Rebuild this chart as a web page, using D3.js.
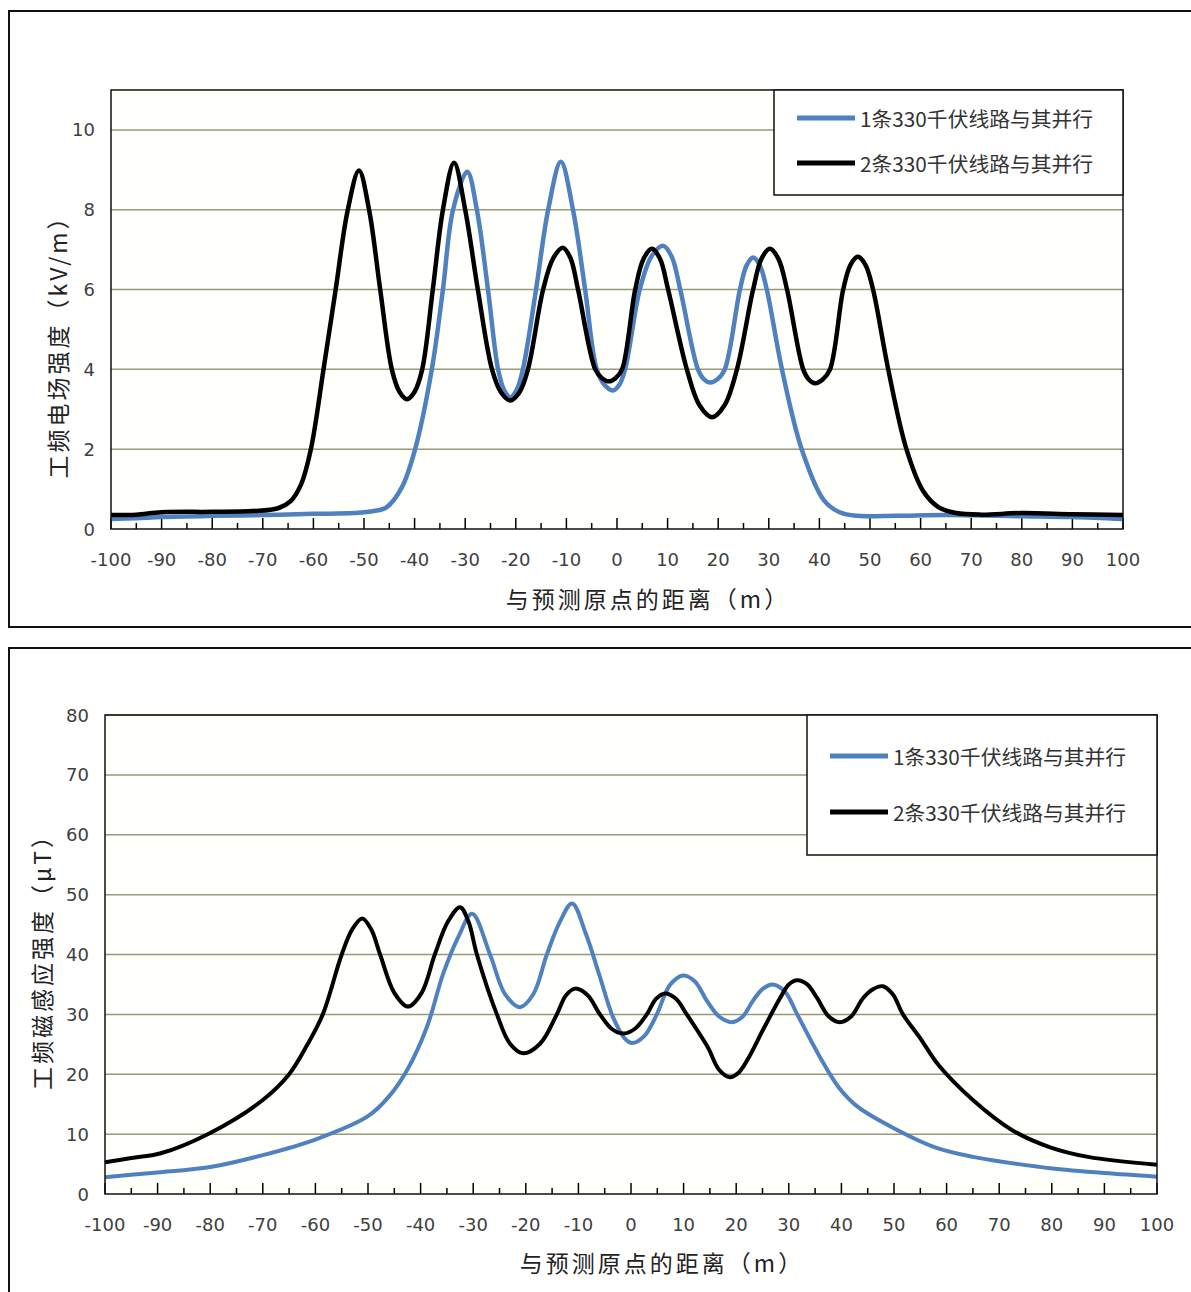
<!DOCTYPE html>
<html>
<head>
<meta charset="utf-8">
<script src="https://cdn.jsdelivr.net/npm/d3@7"></script>
<style>
  body { margin: 0; background: #fff; }
  svg { display: block; }
</style>
</head>
<body>
<svg width="1191" height="1292"></svg>
<script>
// series names
const seriesNames = ["1条330千伏线路与其并行", "2条330千伏线路与其并行"];
const xTicks = [-100, -90, -80, -70, -60, -50, -40, -30, -20, -10, 0, 10, 20, 30, 40, 50, 60, 70, 80, 90, 100];

// 工频电场强度 (kV/m) — one line
const eDist1 = [-100, -95, -90, -80, -70, -60, -52, -48, -45.5, -42.5, -39.9, -36.6, -34.4, -32.4, -29.6, -27.7, -25.5, -23.5, -22.3, -21.1, -19.85, -18.6, -16.0, -13.6, -11.1, -8.7, -6.3, -4.0, -2.4, -0.8, 0.4, 1.6, 4.5, 6.8, 9.1, 10.8, 12.5, 16.0, 17.2, 18.4, 19.85, 21.3, 24.3, 25.6, 26.9, 28.25, 29.6, 32.6, 36.5, 40.9, 44, 47.6, 55, 65, 80, 90, 100];
const eVal1  = [0.25, 0.27, 0.3, 0.33, 0.35, 0.38, 0.4, 0.45, 0.55, 1.05, 2.0, 4, 6, 8, 8.95, 8, 6, 4, 3.48, 3.3, 3.48, 4, 6, 8, 9.2, 8, 6, 4, 3.6, 3.47, 3.6, 4, 6, 6.83, 7.1, 6.83, 6, 4, 3.75, 3.67, 3.75, 4, 6, 6.6, 6.8, 6.6, 6, 4, 2.0, 0.72, 0.42, 0.33, 0.33, 0.35, 0.32, 0.3, 0.25];
// two lines
const eDist2 = [-100, -95, -90, -80, -72, -67, -64.5, -62.5, -60.5, -58.0, -55.6, -53.2, -51.0, -49.0, -46.8, -44.5, -43.0, -41.5, -40.0, -38.5, -36.4, -34.4, -32.2, -30.0, -27.5, -24.7, -22.9, -21.1, -19.3, -17.6, -14.6, -12.6, -10.7, -9.2, -7.7, -4.3, -2.95, -1.6, -0.3, 1.0, 3.6, 5.25, 6.9, 8.5, 10.1, 13.8, 16.3, 18.8, 21.25, 23.7, 26.9, 28.55, 30.2, 31.9, 33.6, 36.8, 37.95, 39.1, 40.6, 42.1, 44.7, 46.15, 47.6, 49.1, 50.6, 53.6, 57.2, 60.5, 63.5, 67, 72, 80, 90, 100];
const eVal2  = [0.35, 0.36, 0.42, 0.43, 0.45, 0.52, 0.7, 1.1, 2.0, 4, 6, 8, 8.98, 8, 6, 4, 3.44, 3.25, 3.44, 4, 6, 8, 9.18, 8, 6, 4, 3.42, 3.22, 3.42, 4, 6, 6.79, 7.05, 6.79, 6, 4, 3.78, 3.7, 3.78, 4, 6, 6.77, 7.02, 6.77, 6, 4, 3.1, 2.8, 3.1, 4, 6, 6.77, 7.02, 6.77, 6, 4, 3.74, 3.65, 3.74, 4, 6, 6.62, 6.82, 6.62, 6, 4, 2.0, 0.95, 0.55, 0.4, 0.36, 0.4, 0.37, 0.35];
const eTicks = [0, 2, 4, 6, 8, 10];

// 工频磁感应强度 (μT) — one line
const bDist1 = [-100, -95, -90, -80, -70, -60, -50, -46, -42.5, -38.8, -35.7, -32.8, -30.2, -26.8, -23.95, -21.1, -18.55, -16, -13.5, -11.2, -8.6, -6.0, -3.4, -1.2, 0.2, 2.55, 4.9, 7.4, 9.9, 12.15, 14.4, 16.8, 19.2, 21.2, 23.2, 25.1, 27, 29.3, 31.6, 35.9, 39.5, 43.2, 50.6, 57.8, 65, 72, 79.7, 90, 100];
const bVal1  = [2.8, 3.2, 3.6, 4.5, 6.5, 9.1, 13, 16.3, 20.8, 27.9, 36.8, 43, 46.8, 40, 33.4, 31.2, 33.4, 40, 45.5, 48.5, 43.5, 36.5, 29.5, 26, 25.2, 26.4, 30, 34.9, 36.5, 35.5, 32.3, 29.6, 28.7, 29.6, 32.3, 34.3, 35, 33.75, 30, 22.9, 17.8, 14.5, 10.7, 7.8, 6.2, 5.2, 4.3, 3.5, 2.9];
// two lines
const bDist2 = [-100, -95, -89.4, -80, -70, -65, -61.5, -58.6, -55, -53, -51.1, -49.4, -47.7, -45.0, -42.4, -39.8, -37.3, -34.8, -32.5, -30.9, -29.3, -25.5, -23, -20.5, -17.3, -14.1, -12.35, -10.6, -8.25, -5.9, -3.7, -1.5, 0.75, 3.0, 4.75, 6.5, 8.55, 10.6, 14.6, 16.7, 18.8, 20.5, 22.2, 25.2, 28.4, 30, 31.6, 33.5, 35.4, 37.55, 39.7, 41.9, 44.1, 46, 47.9, 49.8, 51.7, 55, 58.5, 65, 72.4, 79.7, 86.9, 100];
const bVal2  = [5.3, 6.0, 6.8, 10.2, 15.7, 20, 25, 30, 40, 44.2, 46, 44.2, 40, 33.6, 31.3, 33.6, 40, 45.5, 47.9, 45.5, 40, 30, 25.1, 23.5, 25.1, 30, 33.2, 34.3, 33.2, 30, 27.6, 26.8, 27.6, 30, 32.6, 33.5, 32.6, 30, 24.5, 20.8, 19.5, 20.3, 22.5, 27.6, 32.8, 35.0, 35.7, 35.0, 32.7, 29.7, 28.7, 29.7, 32.7, 34.2, 34.7, 33.3, 30, 26, 21.5, 15.7, 10.7, 7.8, 6.2, 4.9];
const bTicks = [0, 10, 20, 30, 40, 50, 60, 70, 80];

const svg = d3.select("svg");
const cjk = "'Noto Sans CJK SC', sans-serif";
const num = "'DejaVu Sans', sans-serif";
const colors = ["#4f81c0", "#000000"];

function drawChart(c) {
    const g = svg.append("g");

    // outer frame
    g.append("rect")
        .attr("x", c.frame[0]).attr("y", c.frame[1])
        .attr("width", c.frame[2]).attr("height", c.frame[3])
        .attr("fill", "#fff").attr("stroke", "#111").attr("stroke-width", 2);

    const x = d3.scaleLinear().domain([-100, 100]).range([c.left, c.right]);
    const y = d3.scaleLinear().domain(c.yDomain).range([c.bottom, c.top]);

    g.append("rect")
        .attr("x", c.left).attr("y", c.top)
        .attr("width", c.right - c.left).attr("height", c.bottom - c.top)
        .attr("fill", "#fffffb");

    // gridlines
    g.selectAll(".grid").data(c.yTicks.filter(d => d > 0)).enter().append("line")
        .attr("x1", c.left).attr("x2", c.right)
        .attr("y1", d => y(d)).attr("y2", d => y(d))
        .attr("stroke", "#9a987a").attr("stroke-width", 1.5);

    // y tick labels
    g.selectAll(".ylab").data(c.yTicks).enter().append("text")
        .attr("x", c.left - 16).attr("y", d => y(d))
        .attr("text-anchor", "end").attr("dominant-baseline", "central")
        .attr("font-family", num).attr("font-size", 18).attr("fill", "#404040")
        .text(d => d);

    // x axis ticks (inside, pointing up)
    const minor = d3.range(-95, 100, 10);
    g.selectAll(".xt").data(xTicks).enter().append("line")
        .attr("x1", d => x(d)).attr("x2", d => x(d))
        .attr("y1", c.bottom).attr("y2", c.bottom - 11)
        .attr("stroke", "#000").attr("stroke-width", 1.5);
    g.selectAll(".xm").data(minor).enter().append("line")
        .attr("x1", d => x(d)).attr("x2", d => x(d))
        .attr("y1", c.bottom).attr("y2", c.bottom - 6)
        .attr("stroke", "#000").attr("stroke-width", 1.5);
    g.selectAll(".xlab").data(xTicks).enter().append("text")
        .attr("x", d => x(d)).attr("y", c.bottom + 30)
        .attr("text-anchor", "middle").attr("dominant-baseline", "central")
        .attr("font-family", num).attr("font-size", 18).attr("fill", "#404040")
        .text(d => d);

    // lines
    const line = d3.line()
        .x(d => x(d[0])).y(d => y(d[1]))
        .curve(d3.curveCatmullRom.alpha(0.5));
    c.series.forEach(function(s, i) {
        const pts = s.dist.map((d, j) => [d, s.val[j]]);
        g.append("path").datum(pts)
            .attr("d", line)
            .attr("fill", "none")
            .attr("stroke", colors[i])
            .attr("stroke-width", c.lw)
            .attr("stroke-linejoin", "round");
    });

    // plot border
    g.append("rect")
        .attr("x", c.left).attr("y", c.top)
        .attr("width", c.right - c.left).attr("height", c.bottom - c.top)
        .attr("fill", "none").attr("stroke", "#111").attr("stroke-width", 1.5);

    // legend
    const L = c.legend;
    g.append("rect")
        .attr("x", L.x).attr("y", c.top)
        .attr("width", c.right - L.x).attr("height", L.bottom - c.top)
        .attr("fill", "#fff").attr("stroke", "#111").attr("stroke-width", 1.5);
    seriesNames.forEach(function(name, i) {
        const ly = L.rows[i];
        g.append("line")
            .attr("x1", L.sx).attr("x2", L.sx + 58)
            .attr("y1", ly).attr("y2", ly)
            .attr("stroke", colors[i]).attr("stroke-width", 5);
        g.append("text")
            .attr("x", L.sx + 63).attr("y", ly)
            .attr("dominant-baseline", "central")
            .attr("font-family", cjk).attr("font-size", 20).attr("fill", "#333")
            .attr("textLength", 233).attr("lengthAdjust", "spacingAndGlyphs")
            .text(name);
    });

    // axis titles
    g.append("text")
        .attr("x", c.xTitle[0]).attr("y", c.xTitle[1])
        .attr("text-anchor", "middle").attr("dominant-baseline", "central")
        .attr("font-family", cjk).attr("font-size", 23).attr("fill", "#222")
        .attr("letter-spacing", 3)
        .text("与预测原点的距离（m）");
    g.append("text")
        .attr("transform", "translate(" + c.yTitle[0] + "," + c.yTitle[1] + ") rotate(-90)")
        .attr("text-anchor", "middle").attr("dominant-baseline", "central")
        .attr("font-family", cjk).attr("font-size", 23).attr("fill", "#222")
        .attr("letter-spacing", 3)
        .text(c.yLabel);
}

drawChart({
    frame: [9, 11, 1200, 616],
    left: 111, right: 1123, top: 90, bottom: 529,
    yDomain: [0, 11], yTicks: eTicks, lw: 4.5,
    series: [{dist: eDist1, val: eVal1}, {dist: eDist2, val: eVal2}],
    legend: {x: 774, bottom: 195, sx: 797, rows: [118, 163]},
    xTitle: [648, 598], yTitle: [57, 341],
    yLabel: "工频电场强度（kV/m）"
});

drawChart({
    frame: [9, 648, 1200, 700],
    left: 105, right: 1157, top: 715, bottom: 1194,
    yDomain: [0, 80], yTicks: bTicks, lw: 4,
    series: [{dist: bDist1, val: bVal1}, {dist: bDist2, val: bVal2}],
    legend: {x: 807, bottom: 855, sx: 830, rows: [756, 812]},
    xTitle: [662, 1262], yTitle: [41, 956],
    yLabel: "工频磁感应强度（μT）"
});
</script>
</body>
</html>
